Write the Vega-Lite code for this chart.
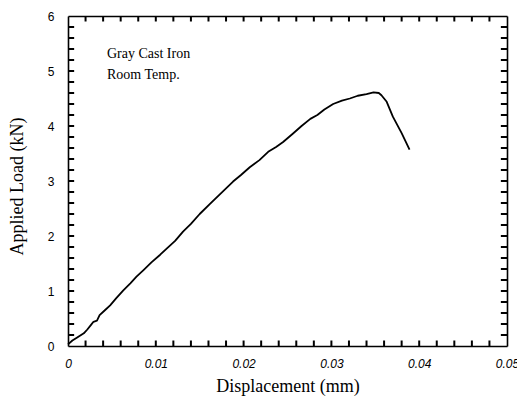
{
  "$schema": "https://vega.github.io/schema/vega-lite/v6.json",
  "width": 439,
  "height": 330,
  "autosize": {"type": "none"},
  "padding": {"left": 68, "top": 16, "right": 10, "bottom": 55},
  "background": "white",
  "config": {
    "view": {"stroke": null},
    "axis": {"grid": false, "domainColor": "black", "domainWidth": 1.6, "labelFlush": false, "labelOverlap": false}
  },
  "datasets": {
    "curve": [
      {"disp": 0, "load": 0.03},
      {"disp": 0.0005, "load": 0.10},
      {"disp": 0.001, "load": 0.15},
      {"disp": 0.0018, "load": 0.23},
      {"disp": 0.0022, "load": 0.30},
      {"disp": 0.0026, "load": 0.38},
      {"disp": 0.0029, "load": 0.44},
      {"disp": 0.0033, "load": 0.46},
      {"disp": 0.0036, "load": 0.56},
      {"disp": 0.0042, "load": 0.65},
      {"disp": 0.0048, "load": 0.74},
      {"disp": 0.0055, "load": 0.87},
      {"disp": 0.0063, "load": 1.01},
      {"disp": 0.0071, "load": 1.14},
      {"disp": 0.0078, "load": 1.26},
      {"disp": 0.0086, "load": 1.38},
      {"disp": 0.0095, "load": 1.52},
      {"disp": 0.0105, "load": 1.66},
      {"disp": 0.0113, "load": 1.78},
      {"disp": 0.0122, "load": 1.91},
      {"disp": 0.0131, "load": 2.08},
      {"disp": 0.0140, "load": 2.22},
      {"disp": 0.0150, "load": 2.40},
      {"disp": 0.0162, "load": 2.59},
      {"disp": 0.0175, "load": 2.79},
      {"disp": 0.0188, "load": 2.99},
      {"disp": 0.0197, "load": 3.11},
      {"disp": 0.0207, "load": 3.25},
      {"disp": 0.0218, "load": 3.38},
      {"disp": 0.0228, "load": 3.53},
      {"disp": 0.0237, "load": 3.62},
      {"disp": 0.0245, "load": 3.71},
      {"disp": 0.0256, "load": 3.86},
      {"disp": 0.0266, "load": 4.00},
      {"disp": 0.0276, "load": 4.13},
      {"disp": 0.0284, "load": 4.20},
      {"disp": 0.0292, "load": 4.30},
      {"disp": 0.0302, "load": 4.40},
      {"disp": 0.0312, "load": 4.46},
      {"disp": 0.0321, "load": 4.50},
      {"disp": 0.0330, "load": 4.55},
      {"disp": 0.0340, "load": 4.58},
      {"disp": 0.0348, "load": 4.61},
      {"disp": 0.0354, "load": 4.60},
      {"disp": 0.0357, "load": 4.56},
      {"disp": 0.0363, "load": 4.44},
      {"disp": 0.0370, "load": 4.17},
      {"disp": 0.0380, "load": 3.87},
      {"disp": 0.0389, "load": 3.57}
    ],
    "notes": [
      {"disp": 0.00444, "load": 5.236, "label": "Gray Cast Iron"},
      {"disp": 0.00444, "load": 4.855, "label": "Room Temp."}
    ],
    "xticks": [
      {"v": 0.002, "major": 0}, {"v": 0.004, "major": 0}, {"v": 0.006, "major": 0}, {"v": 0.008, "major": 0}, {"v": 0.01, "major": 1},
      {"v": 0.012, "major": 0}, {"v": 0.014, "major": 0}, {"v": 0.016, "major": 0}, {"v": 0.018, "major": 0}, {"v": 0.02, "major": 1},
      {"v": 0.022, "major": 0}, {"v": 0.024, "major": 0}, {"v": 0.026, "major": 0}, {"v": 0.028, "major": 0}, {"v": 0.03, "major": 1},
      {"v": 0.032, "major": 0}, {"v": 0.034, "major": 0}, {"v": 0.036, "major": 0}, {"v": 0.038, "major": 0}, {"v": 0.04, "major": 1},
      {"v": 0.042, "major": 0}, {"v": 0.044, "major": 0}, {"v": 0.046, "major": 0}, {"v": 0.048, "major": 0}
    ],
    "yticks": [
      {"v": 0.2, "major": 0}, {"v": 0.4, "major": 0}, {"v": 0.6, "major": 0}, {"v": 0.8, "major": 0}, {"v": 1, "major": 1},
      {"v": 1.2, "major": 0}, {"v": 1.4, "major": 0}, {"v": 1.6, "major": 0}, {"v": 1.8, "major": 0}, {"v": 2, "major": 1},
      {"v": 2.2, "major": 0}, {"v": 2.4, "major": 0}, {"v": 2.6, "major": 0}, {"v": 2.8, "major": 0}, {"v": 3, "major": 1},
      {"v": 3.2, "major": 0}, {"v": 3.4, "major": 0}, {"v": 3.6, "major": 0}, {"v": 3.8, "major": 0}, {"v": 4, "major": 1},
      {"v": 4.2, "major": 0}, {"v": 4.4, "major": 0}, {"v": 4.6, "major": 0}, {"v": 4.8, "major": 0}, {"v": 5, "major": 1},
      {"v": 5.2, "major": 0}, {"v": 5.4, "major": 0}, {"v": 5.6, "major": 0}, {"v": 5.8, "major": 0}
    ]
  },
  "layer": [
    {
      "data": {"name": "xticks"},
      "mark": {"type": "rule", "color": "black", "strokeWidth": 2},
      "encoding": {
        "x": {"field": "v", "type": "quantitative", "scale": {"domain": [0, 0.05], "nice": false, "zero": false}, "axis": null},
        "y": {"datum": 0, "type": "quantitative", "scale": {"domain": [0, 6], "nice": false}, "axis": null},
        "y2": {"datum": 0.1}
      }
    },
    {
      "data": {"name": "xticks"},
      "mark": {"type": "rule", "color": "black", "strokeWidth": 2},
      "encoding": {
        "x": {"field": "v", "type": "quantitative", "axis": null},
        "y": {"datum": 6, "type": "quantitative", "axis": null},
        "y2": {"datum": 5.9}
      }
    },
    {
      "data": {"name": "yticks"},
      "mark": {"type": "rule", "color": "black", "strokeWidth": 2},
      "encoding": {
        "y": {"field": "v", "type": "quantitative", "axis": null},
        "x": {"datum": 0, "type": "quantitative", "axis": null},
        "x2": {"datum": 0.0007}
      }
    },
    {
      "data": {"name": "yticks"},
      "mark": {"type": "rule", "color": "black", "strokeWidth": 2},
      "encoding": {
        "y": {"field": "v", "type": "quantitative", "axis": null},
        "x": {"datum": 0.05, "type": "quantitative", "axis": null},
        "x2": {"datum": 0.0493}
      }
    },
    {
      "data": {"name": "curve"},
      "mark": {"type": "line", "color": "black", "strokeWidth": 1.8, "strokeJoin": "round"},
      "encoding": {
        "x": {
          "field": "disp", "type": "quantitative",
          "axis": {
            "orient": "bottom",
            "title": "Displacement (mm)",
            "titleFont": "Liberation Serif", "titleFontSize": 18, "titleFontWeight": "normal", "titleColor": "black",
            "titleBaseline": "alphabetic", "titleY": 45,
            "values": [0, 0.01, 0.02, 0.03, 0.04, 0.05],
            "labelExpr": "datum.value == 0 ? '0' : format(datum.value, '.2f')",
            "labelFont": "Liberation Sans", "labelFontSize": 12, "labelFontStyle": "italic", "labelColor": "black",
            "labelPadding": 12,
            "ticks": false
          }
        },
        "y": {
          "field": "load", "type": "quantitative",
          "axis": {
            "orient": "left",
            "title": "Applied Load (kN)",
            "titleFont": "Liberation Serif", "titleFontSize": 18, "titleFontWeight": "normal", "titleColor": "black",
            "titleAngle": -90, "titleBaseline": "alphabetic", "titleAlign": "center", "titleX": -46, "titleY": 170,
            "values": [0, 1, 2, 3, 4, 5, 6],
            "format": "d",
            "labelFont": "Liberation Sans", "labelFontSize": 12, "labelColor": "black",
            "labelPadding": 14,
            "ticks": false
          }
        }
      }
    },
    {
      "data": {"name": "curve"},
      "mark": {"type": "line", "opacity": 0},
      "encoding": {
        "x": {"field": "disp", "type": "quantitative", "axis": {"orient": "top", "title": null, "labels": false, "ticks": false, "values": [0, 0.05]}},
        "y": {"field": "load", "type": "quantitative", "axis": {"orient": "right", "title": null, "labels": false, "ticks": false, "values": [0, 6]}}
      }
    },
    {
      "data": {"name": "notes"},
      "mark": {"type": "text", "align": "left", "baseline": "alphabetic", "font": "Liberation Serif", "fontSize": 14, "color": "black"},
      "encoding": {
        "x": {"field": "disp", "type": "quantitative", "axis": null},
        "y": {"field": "load", "type": "quantitative", "axis": null},
        "text": {"field": "label", "type": "nominal"}
      }
    }
  ],
  "resolve": {"axis": {"x": "independent", "y": "independent"}}
}
